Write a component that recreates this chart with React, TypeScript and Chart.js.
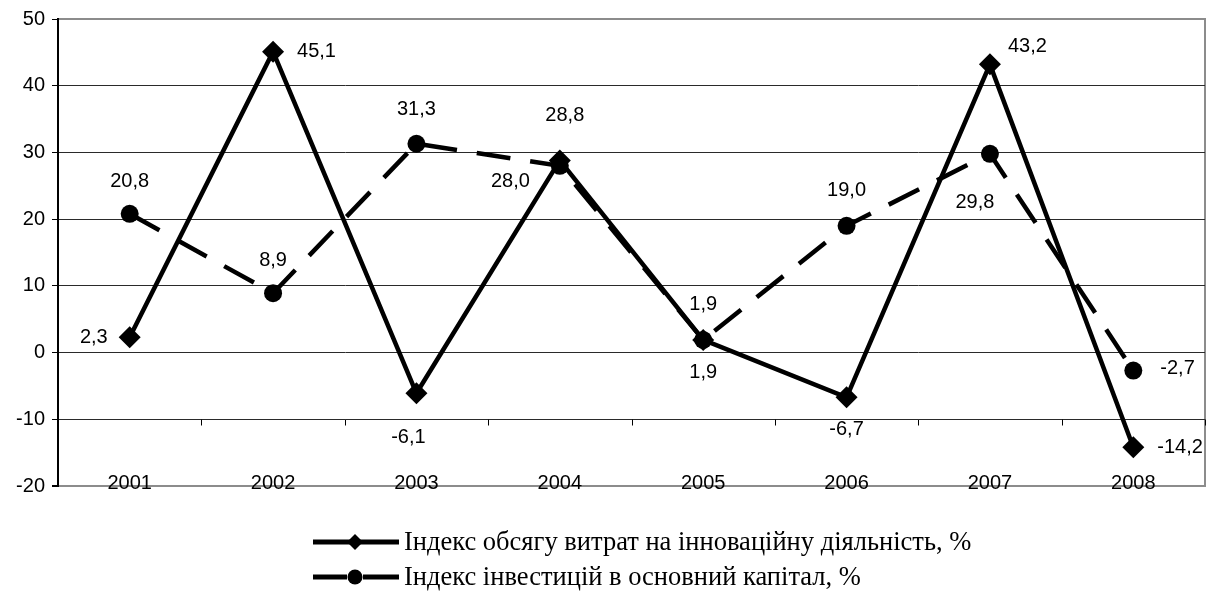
import React, { useEffect, useRef } from 'react';
import { Chart, registerables } from 'chart.js';

Chart.register(...registerables);

// ---- data ----
const years = ['2001', '2002', '2003', '2004', '2005', '2006', '2007', '2008'];
const innovationIndex = [2.3, 45.1, -6.1, 28.8, 1.9, -6.7, 43.2, -14.2];
const investmentIndex = [20.8, 8.9, 31.3, 28.0, 1.9, 19.0, 29.8, -2.7];
const seriesNames = [
  'Індекс обсягу витрат на інноваційну діяльність, %',
  'Індекс інвестицій в основний капітал, %',
];
const yMin = -20;
const yMax = 50;
const yStep = 10;

// ---- label placement (style only): [dx, dy, align] ----
type LabelPos = [number, number, CanvasTextAlign];
const innovationLabelPos: LabelPos[] = [
  [-22, 0, 'right'], [24, 0, 'left'], [-8, 44, 'center'], [5, -45, 'center'],
  [0, 33, 'center'], [0, 32, 'center'], [18, -18, 'left'], [24, 0, 'left'],
];
const investmentLabelPos: LabelPos[] = [
  [0, -32, 'center'], [0, -33, 'center'], [0, -34, 'center'], [-30, 16, 'right'],
  [0, -35, 'center'], [0, -35, 'center'], [-15, 49, 'center'], [27, -2, 'left'],
];

const SANS = '"Liberation Sans", Arial, sans-serif';
const SERIF = '"Liberation Serif", "Times New Roman", serif';

const fmt = (v: number) => v.toFixed(1).replace('.', ',');

const decorPlugin = {
  id: 'decor',
  beforeDraw(chart: any) {
    const { ctx, chartArea: a } = chart;
    ctx.save();
    ctx.strokeStyle = '#8c8c8c';
    ctx.lineWidth = 2;
    ctx.beginPath();
    ctx.moveTo(a.left, a.top);
    ctx.lineTo(a.right, a.top);
    ctx.lineTo(a.right, a.bottom);
    ctx.lineTo(a.left, a.bottom);
    ctx.stroke();
    ctx.restore();
  },
  afterDatasetsDraw(chart: any) {
    const { ctx, chartArea: a } = chart;
    const xs = chart.scales.x;
    const ys = chart.scales.y;
    ctx.save();
    // category tick marks on the -10 line
    const yT = Math.round(ys.getPixelForValue(-10)) + 0.5;
    ctx.strokeStyle = '#000';
    ctx.lineWidth = 1;
    ctx.beginPath();
    for (let i = 1; i <= years.length; i++) {
      const x = Math.round(xs.getPixelForValue(i - 0.5)) + 0.5;
      ctx.moveTo(x, yT);
      ctx.lineTo(x, yT + 6);
    }
    ctx.stroke();

    // category labels (sitting on the bottom border)
    ctx.fillStyle = '#000';
    ctx.font = `20px ${SANS}`;
    ctx.textAlign = 'center';
    ctx.textBaseline = 'middle';
    years.forEach((yr, i) => {
      ctx.fillText(yr, xs.getPixelForValue(i), a.bottom - 3);
    });

    // data labels
    const allPos = [innovationLabelPos, investmentLabelPos];
    chart.data.datasets.forEach((ds: any, di: number) => {
      const meta = chart.getDatasetMeta(di);
      meta.data.forEach((pt: any, i: number) => {
        const [dx, dy, align] = allPos[di][i];
        ctx.textAlign = align;
        ctx.fillText(fmt(ds.data[i]), pt.x + dx, pt.y + dy);
      });
    });

    // legend
    const rows = [542, 577];
    chart.data.datasets.forEach((ds: any, di: number) => {
      const y = rows[di];
      ctx.strokeStyle = '#000';
      ctx.fillStyle = '#000';
      ctx.lineWidth = 5;
      ctx.setLineDash([]);
      ctx.beginPath();
      if (di === 0) {
        ctx.moveTo(313, y);
        ctx.lineTo(399, y);
      } else {
        ctx.moveTo(313, y);
        ctx.lineTo(347, y);
        ctx.moveTo(363, y);
        ctx.lineTo(399, y);
      }
      ctx.stroke();
      ctx.beginPath();
      if (di === 0) {
        const r = 8;
        ctx.moveTo(355, y - r);
        ctx.lineTo(355 + r, y);
        ctx.lineTo(355, y + r);
        ctx.lineTo(355 - r, y);
        ctx.closePath();
      } else {
        ctx.arc(355, y, 7.5, 0, Math.PI * 2);
      }
      ctx.fill();
      ctx.font = `26.5px ${SERIF}`;
      ctx.textAlign = 'left';
      ctx.textBaseline = 'middle';
      ctx.fillText(seriesNames[di], 404, y + 1);
    });
    ctx.restore();
  },
};

export default function App() {
  const ref = useRef<HTMLCanvasElement>(null);

  useEffect(() => {
    document.body.style.margin = '0';
    const canvas = ref.current!;
    const chart = new Chart(canvas, {
      type: 'line',
      data: {
        labels: years,
        datasets: [
          {
            label: seriesNames[0],
            data: innovationIndex,
            borderColor: '#000',
            backgroundColor: '#000',
            borderWidth: 4.5,
            pointStyle: 'rectRot',
            pointRadius: 11,
            pointBorderWidth: 0,
            pointBackgroundColor: '#000',
            tension: 0,
          },
          {
            label: seriesNames[1],
            data: investmentIndex,
            borderColor: '#000',
            backgroundColor: '#000',
            borderWidth: 4.5,
            borderDash: [34, 20],
            pointStyle: 'circle',
            pointRadius: 9,
            pointBorderWidth: 0,
            pointBackgroundColor: '#000',
            tension: 0,
          },
        ],
      },
      options: {
        responsive: false,
        animation: false,
        layout: { padding: { top: 19, right: 9, left: 0, bottom: 0 } },
        plugins: {
          legend: { display: false },
          tooltip: { enabled: false },
        },
        scales: {
          x: {
            type: 'category',
            offset: true,
            grid: { display: false, drawTicks: false },
            border: { display: false },
            ticks: { display: false },
            afterFit: (s: any) => {
              s.height = 108;
            },
          },
          y: {
            min: yMin,
            max: yMax,
            grid: {
              color: (c: any) =>
                c.tick && (c.tick.value === yMax || c.tick.value === yMin) ? '#8c8c8c' : '#2a2a2a',
              lineWidth: (c: any) => (c.tick && c.tick.value === yMin ? 2 : 1),
              drawTicks: true,
              tickLength: 6,
              tickColor: '#000',
            },
            border: { display: true, color: '#000', width: 2 },
            ticks: {
              stepSize: yStep,
              color: '#000',
              font: { family: SANS, size: 20 },
              padding: 7,
            },
            afterFit: (s: any) => {
              s.width = 58;
            },
          },
        },
      },
      plugins: [decorPlugin],
    });
    return () => chart.destroy();
  }, []);

  return <canvas ref={ref} width={1216} height={594} style={{ display: 'block' }} />;
}
